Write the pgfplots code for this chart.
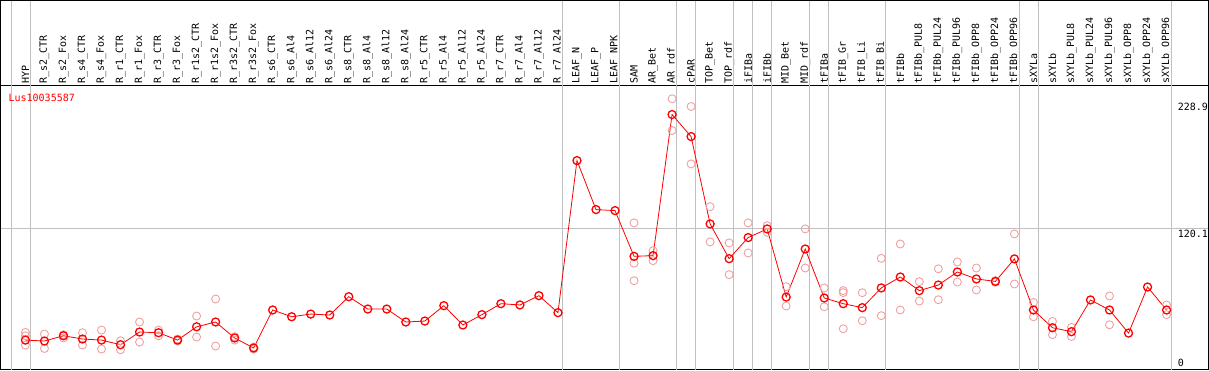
\documentclass[border=0pt]{standalone}
\usepackage{pgfplots}
\pgfplotsset{compat=1.18}
\usepackage{pgfplotstable}
\usepackage{fontspec}
\setmonofont{DejaVu Sans Mono}
\definecolor{mred}{RGB}{255,0,0}
\definecolor{repc}{RGB}{240,160,160}
\definecolor{sepc}{RGB}{192,192,192}

\pgfplotstableread{
x y
0 24.6
1 23.8
2 28.3
3 25.5
4 24.6
5 20.6
6 31.5
7 30.9
8 24.6
9 36.0
10 40.1
11 26.4
12 17.8
13 50.4
14 44.6
15 46.9
16 46.1
17 61.8
18 51.2
19 51.2
20 40.1
21 40.9
22 54.1
23 37.5
24 46.4
25 55.8
26 54.7
27 62.7
28 48.1
29 178.5
30 136.5
31 135.6
32 96.4
33 97.0
34 218.0
35 199.1
36 124.2
37 94.4
38 112.5
39 119.9
40 61.5
41 102.7
42 60.7
43 55.8
44 52.4
45 69.3
46 78.7
47 67.0
48 71.8
49 83.0
50 77.0
51 74.9
52 94.2
53 50.4
54 35.2
55 31.8
56 59.0
57 50.4
58 30.6
59 70.1
60 50.4
}\means

\pgfplotstableread{
x y
0 31.2
0 28.3
0 20.3
1 29.8
1 17.4
2 29.2
2 26.4
3 30.9
3 20.3
4 33.2
4 16.9
5 24.0
5 16.3
6 40.1
6 22.9
7 33.2
7 28.3
8 25.5
8 23.8
9 45.2
9 27.2
10 59.8
10 19.5
11 27.5
11 24.6
12 18.6
12 16.9
32 125.1
32 90.5
32 75.5
33 101.3
33 92.7
34 231.5
34 204.3
35 224.9
35 175.7
36 139.0
36 108.8
37 107.9
37 80.7
38 125.1
38 99.3
39 122.7
39 117.0
40 70.4
40 53.8
41 119.9
41 86.4
42 69.3
42 53.2
43 67.0
43 65.3
43 34.3
44 65.2
44 41.2
45 94.7
45 45.5
46 107.0
46 50.4
47 74.7
47 58.1
48 85.7
48 59.2
49 91.6
49 74.4
50 86.4
50 67.6
51 75.6
51 74.2
52 115.6
52 72.7
53 56.9
53 44.6
54 40.6
54 29.2
55 35.5
55 27.7
57 62.4
57 37.7
60 54.7
60 46.4
}\reps

\begin{document}
\begin{tikzpicture}
\begin{axis}[
  set layers,
  scale only axis,
  width=1207pt, height=284pt,
  xmin=-1.316, xmax=62.21,
  ymin=-0.86, ymax=242.9,
  clip=false,
  axis line style={black, line width=0.8pt},
  major tick length=0pt,
  tick style={draw=none},
  xtick={0,...,60},
  xticklabels={HYP,R\_s2\_CTR,R\_s2\_Fox,R\_s4\_CTR,R\_s4\_Fox,R\_r1\_CTR,R\_r1\_Fox,R\_r3\_CTR,R\_r3\_Fox,R\_r1s2\_CTR,R\_r1s2\_Fox,R\_r3s2\_CTR,R\_r3s2\_Fox,R\_s6\_CTR,R\_s6\_Al4,R\_s6\_Al12,R\_s6\_Al24,R\_s8\_CTR,R\_s8\_Al4,R\_s8\_Al12,R\_s8\_Al24,R\_r5\_CTR,R\_r5\_Al4,R\_r5\_Al12,R\_r5\_Al24,R\_r7\_CTR,R\_r7\_Al4,R\_r7\_Al12,R\_r7\_Al24,LEAF\_N,LEAF\_P,LEAF\_NPK,SAM,AR\_Bet,AR\_rdf,cPAR,TOP\_Bet,TOP\_rdf,iFIBa,iFIBb,MID\_Bet,MID\_rdf,tFIBa,tFIB\_Gr,tFIB\_Li,tFIB\_Bi,tFIBb,tFIBb\_PUL8,tFIBb\_PUL24,tFIBb\_PUL96,tFIBb\_OPP8,tFIBb\_OPP24,tFIBb\_OPP96,sXYLa,sXYLb,sXYLb\_PUL8,sXYLb\_PUL24,sXYLb\_PUL96,sXYLb\_OPP8,sXYLb\_OPP24,sXYLb\_OPP96},
  xticklabel pos=upper,
  xticklabel style={rotate=90, anchor=west, inner sep=2pt, font=\ttfamily\fontsize{10}{11}\selectfont},
  ytick={120.1,228.9},
  yticklabels={120.1,228.9},
  yticklabel pos=right,
  yticklabel style={anchor=north west, inner sep=0pt, xshift=-31pt, yshift=-1pt, font=\ttfamily\fontsize{10}{11}\selectfont},
  extra y ticks={120.1},
  extra y tick labels={},
  extra y tick style={grid=major, major grid style={sepc, line width=0.8pt}},
]
\pgfplotsinvokeforeach{-0.76,0.24,28.24,31.24,34.24,35.24,37.24,38.24,39.24,41.24,42.24,45.24,52.24,53.24,60.24}{
  \draw[on layer=axis background, sepc, line width=0.8pt] (axis cs:#1,-0.86) -- ({axis cs:#1,0}|-{rel axis cs:0,1.2993});
}
\draw[black, line width=0.8pt] (rel axis cs:0,1) -- (rel axis cs:0,1.2993) -- (rel axis cs:1,1.2993) -- (rel axis cs:1,1);
\addplot[only marks, mark=o, mark size=4pt, color=repc, mark options={line width=0.9pt}] table[x=x, y=y] {\reps};
\addplot[color=mred, line width=0.8pt, mark=o, mark size=4pt, mark options={line width=1.3pt, solid}] table[x=x, y=y] {\means};
\node[anchor=west, text=mred, inner sep=0pt, font=\ttfamily\fontsize{10}{11}\selectfont] at (rel axis cs:0.0066,0.958) {Lus10035587};
\node[anchor=south west, inner sep=0pt, font=\ttfamily\fontsize{10}{11}\selectfont] at (rel axis cs:0.9743,0.01) {0};
\end{axis}
\end{tikzpicture}
\end{document}
